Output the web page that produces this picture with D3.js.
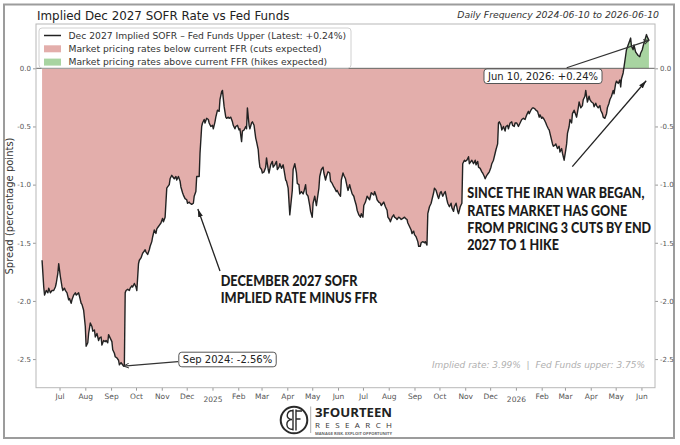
<!DOCTYPE html>
<html>
<head>
<meta charset="utf-8">
<script src="https://cdn.jsdelivr.net/npm/d3@7"></script>
<style>
  body { margin: 0; background: #fff; }
  svg { display: block; }
</style>
</head>
<body>
<div id="chart"></div>
<script>
// series: days since 2024-06-10 and spread (implied Dec-27 SOFR minus FF upper, pp)
var startDate = Date.UTC(2024, 5, 10);
var DAY = 864e5;

var days = [0,2,3,5,7,8,10,12,14,16,17,19,20,22,24,25,27,28,30,32,33,35,36,38,40,41,44,45,47,48,50,52,53,55,56,58,60,61,63,64,66,68,69,71,72,74,76,77,79,80,82,84,85,87,88,90,92,93,95,96,98,99,
  100,101,103,105,106,108,109,111,113,114,116,117,119,121,122,124,125,127,129,130,132,133,135,137,138,140,141,143,145,146,148,150,151,153,154,156,157,159,161,162,164,166,167,169,170,172,174,175,177,178,180,182,183,185,
  186,188,189,190,192,193,195,196,198,200,201,203,205,206,208,209,211,213,214,216,217,219,221,222,224,225,227,229,230,232,233,235,237,238,240,241,243,245,246,247,249,250,252,253,255,257,258,260,261,262,264,265,267,269,270,272,273,275,277,278,280,282,283,285,286,288,290,291,293,294,296,298,299,
  301,302,304,306,307,309,310,312,314,315,317,318,320,322,323,325,326,328,330,331,333,334,336,338,339,341,342,344,346,347,349,351,352,354,355,357,359,360,362,363,365,367,368,370,371,373,375,376,378,379,381,383,384,386,387,389,
  391,394,396,399,400,402,403,405,407,408,410,411,413,415,416,418,419,421,423,424,426,427,429,431,432,434,436,437,439,440,442,444,445,447,448,450,452,453,455,456,458,460,461,463,464,466,468,469,471,472,474,476,477,479,480,482,484,485,487,488,490,492,493,495,496,498,
  500,501,503,505,506,508,509,511,513,514,516,517,519,521,522,524,525,527,529,530,532,533,535,537,538,540,541,543,545,546,548,549,550,552,553,555,557,558,560,561,563,565,566,568,569,
  571,573,575,577,579,581,583,585,586,588,590,591,593,594,596,598,599,601,602,604,606,607,609,610,612,614,615,617,618,620,622,623,625,626,628,630,631,632,634,635,637,638,640,642,643,645,646,648,650,651,653,654,656,658,659,661,663,664,666,667,669,671,672,674,675,677,679,680,682,683,685,687,688,690,691,693,695,696,697,699,
  700,702,703,705,707,708,709,711,712,714,715,717,719,720,722,723,725,727,728,730];

var spread = [-1.65,-1.88,-1.95,-1.91,-1.93,-1.89,-1.93,-1.91,-1.91,-1.88,-1.85,-1.76,-1.68,-1.79,-1.88,-1.91,-1.89,-1.91,-1.93,-1.99,-1.98,-2.02,-1.99,-1.95,-1.93,-1.95,-1.93,-1.96,-2.02,-2.03,-2.08,-2.22,-2.39,-2.36,-2.28,-2.19,-2.22,-2.26,-2.25,-2.31,-2.28,-2.34,-2.32,-2.31,-2.38,-2.34,-2.35,-2.34,-2.36,-2.29,-2.32,-2.35,-2.42,-2.45,-2.48,-2.49,-2.51,-2.55,-2.53,-2.54,-2.56,-2.55,
  -1.93,-1.91,-1.90,-1.91,-1.89,-1.87,-1.88,-1.85,-1.88,-1.91,-1.68,-1.65,-1.63,-1.59,-1.58,-1.56,-1.58,-1.60,-1.56,-1.53,-1.49,-1.45,-1.39,-1.42,-1.38,-1.36,-1.35,-1.33,-1.29,-1.32,-1.28,-1.03,-1.02,-1.00,-0.95,-0.92,-0.93,-0.95,-0.93,-0.96,-0.93,-0.97,-1.02,-1.07,-1.09,-1.12,-1.13,-1.16,-1.15,-1.16,-1.17,-1.16,-1.10,-1.06,
  -0.93,-0.93,-0.93,-0.73,-0.50,-0.47,-0.44,-0.47,-0.43,-0.44,-0.47,-0.50,-0.49,-0.52,-0.46,-0.42,-0.36,-0.37,-0.27,-0.20,-0.19,-0.33,-0.42,-0.43,-0.42,-0.43,-0.42,-0.46,-0.49,-0.52,-0.50,-0.49,-0.53,-0.52,-0.63,-0.54,-0.53,-0.50,-0.52,-0.34,-0.49,-0.52,-0.47,-0.46,-0.49,-0.60,-0.63,-0.70,-0.79,-0.85,-0.87,-0.90,-0.89,-0.85,-0.77,-0.87,-0.90,-0.83,-0.80,-0.85,-0.83,-0.80,-0.87,-0.85,-0.82,-0.86,-0.83,-0.87,-0.96,-0.97,-1.03,-1.26,-1.19,
  -1.05,-0.87,-0.82,-0.90,-0.99,-1.00,-1.08,-1.06,-1.08,-1.06,-1.00,-1.08,-1.10,-1.18,-1.23,-1.28,-1.16,-1.10,-1.18,-1.13,-1.03,-0.93,-0.87,-0.85,-0.90,-0.96,-0.93,-0.89,-0.90,-0.97,-0.99,-1.02,-1.03,-1.06,-1.05,-1.08,-1.10,-0.96,-0.90,-0.92,-0.95,-1.02,-1.05,-1.00,-1.03,-1.08,-1.10,-1.13,-1.18,-1.22,-1.26,-1.28,-1.25,-1.28,-1.18,-1.15,
  -1.10,-1.13,-1.07,-1.09,-1.06,-1.10,-1.13,-1.15,-1.16,-1.18,-1.16,-1.15,-1.19,-1.22,-1.28,-1.30,-1.32,-1.28,-1.26,-1.28,-1.29,-1.30,-1.28,-1.29,-1.30,-1.29,-1.28,-1.29,-1.30,-1.33,-1.36,-1.39,-1.42,-1.40,-1.43,-1.45,-1.49,-1.53,-1.53,-1.50,-1.49,-1.50,-1.49,-1.52,-1.25,-1.19,-1.16,-1.13,-1.07,-1.03,-1.05,-1.10,-1.12,-1.07,-1.06,-1.10,-1.07,-1.06,-1.13,-1.16,-1.19,-1.16,-1.20,-1.23,-1.19,-1.16,
  -1.23,-1.25,-1.19,-1.16,-0.82,-0.79,-0.80,-0.79,-0.76,-0.82,-0.80,-0.79,-0.82,-0.79,-0.83,-0.80,-0.85,-0.86,-0.89,-0.90,-0.93,-0.95,-0.92,-0.90,-0.89,-0.85,-0.82,-0.79,-0.73,-0.70,-0.65,-0.47,-0.46,-0.49,-0.53,-0.50,-0.54,-0.50,-0.49,-0.52,-0.47,-0.46,-0.49,-0.50,-0.47,
  -0.47,-0.50,-0.47,-0.44,-0.43,-0.44,-0.40,-0.37,-0.39,-0.36,-0.34,-0.34,-0.35,-0.36,-0.37,-0.42,-0.40,-0.43,-0.42,-0.44,-0.47,-0.49,-0.52,-0.53,-0.59,-0.65,-0.67,-0.66,-0.65,-0.69,-0.67,-0.72,-0.69,-0.73,-0.79,-0.70,-0.65,-0.56,-0.50,-0.44,-0.47,-0.39,-0.36,-0.40,-0.42,-0.34,-0.29,-0.34,-0.32,-0.27,-0.24,-0.19,-0.29,-0.24,-0.27,-0.29,-0.30,-0.33,-0.30,-0.32,-0.34,-0.32,-0.36,-0.39,-0.42,-0.43,-0.39,-0.34,-0.30,-0.27,-0.24,-0.19,-0.22,-0.13,-0.11,-0.13,-0.10,-0.16,-0.09,-0.04,
  0.01,0.11,0.16,0.20,0.24,0.26,0.19,0.16,0.20,0.14,0.13,0.11,0.10,0.13,0.16,0.19,0.24,0.29,0.27,0.24];

var yTicks = [0, -0.5, -1.0, -1.5, -2.0, -2.5];
var impliedRate = 3.99;
var fedFundsUpper = 3.75;

var titleText = "Implied Dec 2027 SOFR Rate vs Fed Funds";
var subtitleText = "Daily Frequency 2024-06-10 to 2026-06-10";
var yLabel = "Spread (percentage points)";
var legendCuts = "Market pricing rates below current FFR (cuts expected)";
var legendHikes = "Market pricing rates above current FFR (hikes expected)";
var noteLeft = ["DECEMBER 2027 SOFR", "IMPLIED RATE MINUS FFR"];
var noteRight = ["SINCE THE IRAN WAR BEGAN,", "RATES MARKET HAS GONE", "FROM PRICING 3 CUTS BY END", "2027 TO 1 HIKE"];

var data = days.map(function(d, i) { return {date: new Date(startDate + d * DAY), v: spread[i]}; });
var last = data[data.length - 1];
var low = data.reduce(function(a, b) { return b.v < a.v ? b : a; });

var W = 680, H = 445;
var L = 36, R = 655, T = 24, B = 387.7;
var red = "#e3aeab", green = "#a8d4a1", ink = "#222";
var font = "'DejaVu Sans', sans-serif";

var svg = d3.select("#chart").append("svg").attr("width", W).attr("height", H);

// outer frame
svg.append("rect").attr("x", 4).attr("y", 4.5).attr("width", 670).attr("height", 433.5)
  .attr("fill", "#fff").attr("stroke", "#9c9c9c").attr("stroke-width", 2);

var pad = 7.3 * DAY;
var x = d3.scaleUtc()
  .domain([new Date(data[0].date - pad), new Date(+last.date + pad)])
  .range([L, R]);
var y = d3.scaleLinear().domain([-2.746, 0.381]).range([B, T]);

var defs = svg.append("defs");
defs.append("clipPath").attr("id", "neg").append("rect")
  .attr("x", L).attr("y", y(0)).attr("width", R - L).attr("height", B - y(0));
defs.append("clipPath").attr("id", "pos").append("rect")
  .attr("x", L).attr("y", T).attr("width", R - L).attr("height", y(0) - T);

defs.append("marker").attr("id", "head").attr("viewBox", "0 0 10 10")
  .attr("refX", 10).attr("refY", 5).attr("markerWidth", 8).attr("markerHeight", 8)
  .attr("markerUnits", "userSpaceOnUse").attr("orient", "auto")
  .append("path").attr("d", "M0,2 L10,5 L0,8 z").attr("fill", ink);
defs.append("marker").attr("id", "open").attr("viewBox", "0 0 10 10")
  .attr("refX", 9).attr("refY", 5).attr("markerWidth", 6).attr("markerHeight", 6)
  .attr("markerUnits", "userSpaceOnUse").attr("orient", "auto")
  .append("path").attr("d", "M0,1 L9,5 L0,9").attr("fill", "none")
  .attr("stroke", "#333").attr("stroke-width", 1.6);

// title
svg.append("text").attr("x", 37).attr("y", 19.5).text(titleText)
  .style("font-family", font).style("font-size", "11.9px").attr("fill", "#222");
svg.append("text").attr("x", 659).attr("y", 18).attr("text-anchor", "end").text(subtitleText)
  .style("font-family", font).style("font-size", "9.3px").style("font-style", "italic").attr("fill", "#333");

// fills + line
var area = d3.area().x(function(d) { return x(d.date); }).y0(y(0)).y1(function(d) { return y(d.v); });
svg.append("path").attr("d", area(data)).attr("fill", red).attr("clip-path", "url(#neg)");
svg.append("path").attr("d", area(data)).attr("fill", green).attr("clip-path", "url(#pos)");

svg.append("line").attr("x1", L).attr("x2", R).attr("y1", y(0)).attr("y2", y(0))
  .attr("stroke", "#555").attr("stroke-width", 0.9);

var line = d3.line().x(function(d) { return x(d.date); }).y(function(d) { return y(d.v); });
svg.append("path").attr("d", line(data)).attr("fill", "none")
  .attr("stroke", ink).attr("stroke-width", 1.4).attr("stroke-linejoin", "round");

// axes
function styleAxis(g) {
  g.select(".domain").remove();
  g.selectAll(".tick line").attr("stroke", "#999");
  g.selectAll(".tick text").attr("fill", "#555").style("font-family", font).style("font-size", "7px");
}
var fmtY = function(d) { return d.toFixed(1); };
svg.append("g").attr("transform", "translate(" + L + ",0)")
  .call(d3.axisLeft(y).tickValues(yTicks).tickFormat(fmtY).tickSize(3).tickPadding(2)).call(styleAxis);
svg.append("g").attr("transform", "translate(" + R + ",0)")
  .call(d3.axisRight(y).tickValues(yTicks).tickFormat(fmtY).tickSize(3).tickPadding(2)).call(styleAxis);

var fmtX = function(d) { return d.getUTCMonth() === 0 ? d3.utcFormat("%Y")(d) : d3.utcFormat("%b")(d); };
var xg = svg.append("g").attr("transform", "translate(0," + B + ")")
  .call(d3.axisBottom(x).ticks(d3.utcMonth.every(1)).tickFormat(fmtX).tickSize(3).tickPadding(3)).call(styleAxis);
xg.selectAll(".tick text").style("font-size", "7.5px")
  .attr("dy", function(d) { return d.getUTCMonth() === 0 ? "1.05em" : "0.71em"; });

svg.append("rect").attr("x", L).attr("y", T).attr("width", R - L).attr("height", B - T)
  .attr("fill", "none").attr("stroke", "#b8b8b8").attr("stroke-width", 1);

svg.append("text").attr("transform", "translate(13,206) rotate(-90)")
  .attr("text-anchor", "middle").text(yLabel)
  .style("font-family", font).style("font-size", "10px").attr("fill", "#333");

// legend
var lg = svg.append("g");
lg.append("rect").attr("x", 39).attr("y", 28).attr("width", 312).attr("height", 40).attr("rx", 3)
  .attr("fill", "#fff").attr("fill-opacity", 0.9).attr("stroke", "#d0d0d0");
var sign = function(v) { return (v >= 0 ? "+" : "") + v.toFixed(2) + "%"; };
var rows = [
  {kind: "line", label: "Dec 2027 Implied SOFR \u2013 Fed Funds Upper (Latest: " + sign(last.v) + ")"},
  {kind: red, label: legendCuts},
  {kind: green, label: legendHikes}
];
rows.forEach(function(r, i) {
  var cy = 35.5 + i * 13.3;
  if (r.kind === "line") {
    lg.append("line").attr("x1", 44).attr("x2", 61).attr("y1", cy).attr("y2", cy)
      .attr("stroke", ink).attr("stroke-width", 1.5);
  } else {
    lg.append("rect").attr("x", 44).attr("y", cy - 3.5).attr("width", 17).attr("height", 7).attr("fill", r.kind);
  }
  lg.append("text").attr("x", 68.5).attr("y", cy).attr("dy", "0.35em").text(r.label)
    .style("font-family", font).style("font-size", "9.2px").attr("fill", "#333");
});

// boxed annotations
function boxNote(text, cx, cy, tailX, tailY, target) {
  svg.append("line").attr("x1", tailX).attr("y1", tailY)
    .attr("x2", x(target.date)).attr("y2", y(target.v))
    .attr("stroke", "#333").attr("stroke-width", 1.2).attr("marker-end", "url(#open)");
  var t = svg.append("text").attr("x", cx).attr("y", cy).attr("dy", "0.35em").attr("text-anchor", "middle")
    .text(text).style("font-family", font).style("font-size", "10px").attr("fill", "#222");
  var w = t.node().getComputedTextLength() + 8;
  svg.insert("rect", function() { return t.node(); })
    .attr("x", cx - w / 2).attr("y", cy - 7.3).attr("width", w).attr("height", 14.6).attr("rx", 3)
    .attr("fill", "#fff").attr("stroke", "#555").attr("stroke-width", 1);
}
boxNote(d3.utcFormat("%b %Y")(low.date) + ": " + low.v.toFixed(2) + "%", 227.5, 359.5, 178, 361.7, low);
boxNote(d3.utcFormat("%b %d, %Y")(last.date) + ": " + sign(last.v), 543, 76.2, 566.7, 67.7, last);

// bold call-outs
function callout(lines, x0, y0, width) {
  var g = svg.append("g");
  var texts = lines.map(function(s, i) {
    return g.append("text").attr("x", 0).attr("y", y0 + i * 17.2).text(s)
      .style("font-family", "Lato, 'Open Sans', sans-serif").style("font-weight", 900)
      .style("font-size", "14.5px").attr("fill", "#1b1b1b");
  });
  var widest = d3.max(texts, function(t) { return t.node().getComputedTextLength(); });
  g.attr("transform", "translate(" + x0 + ",0) scale(" + (width / widest) + ",1)");
}
callout(noteLeft, 220.7, 286, 156.6);
callout(noteRight, 467.3, 198.5, 184);

function arrow(x1, y1, date, v) {
  svg.append("line").attr("x1", x1).attr("y1", y1).attr("x2", x(date)).attr("y2", y(v))
    .attr("stroke", ink).attr("stroke-width", 1.3).attr("marker-end", "url(#head)");
}
arrow(220, 271, new Date(startDate + 187.4 * DAY), -1.21);
arrow(572.3, 166.7, new Date(startDate + 726.7 * DAY), -0.107);

svg.append("text").attr("x", 645).attr("y", 368).attr("text-anchor", "end")
  .style("white-space", "pre")
  .text("Implied rate: " + impliedRate.toFixed(2) + "%  |  Fed Funds upper: " + fedFundsUpper.toFixed(2) + "%")
  .style("font-family", font).style("font-size", "9px").style("font-style", "italic").attr("fill", "#b0b0b0");

// logo
var logo = svg.append("g");
logo.append("circle").attr("cx", 294).attr("cy", 420).attr("r", 13.3)
  .attr("fill", "#fff").attr("stroke", "#2a2a2a").attr("stroke-width", 2);
logo.append("path")
  .attr("d", "M293,409.5 V430.5 M296,409.5 V430.5 M296,411 H302 M296,419 H300.5 M293,410.5 C286,410.5 285,419.5 292,419.5 C285,419.5 285,429.5 293,429.5")
  .attr("fill", "none").attr("stroke", "#2a2a2a").attr("stroke-width", 1.4);
logo.append("line").attr("x1", 310.7).attr("x2", 310.7).attr("y1", 406.5).attr("y2", 433)
  .attr("stroke", "#999").attr("stroke-width", 0.8);
logo.append("text").attr("x", 315).attr("y", 416.5).text("3FOURTEEN")
  .attr("textLength", 77).attr("lengthAdjust", "spacingAndGlyphs")
  .style("font-family", "'Open Sans', sans-serif").style("font-weight", 700).style("font-size", "12.5px").attr("fill", "#222");
logo.append("text").attr("x", 315).attr("y", 428.3).text("RESEARCH")
  .attr("textLength", 77).attr("lengthAdjust", "spacing")
  .style("font-family", "'Open Sans', sans-serif").style("font-weight", 400).style("font-size", "8px").attr("fill", "#333");
logo.append("text").attr("x", 315).attr("y", 435).text("MANAGE RISK. EXPLOIT OPPORTUNITY")
  .attr("textLength", 77).attr("lengthAdjust", "spacingAndGlyphs")
  .style("font-family", "'Open Sans', sans-serif").style("font-weight", 700).style("font-size", "3.4px").attr("fill", "#666");
</script>
</body>
</html>
